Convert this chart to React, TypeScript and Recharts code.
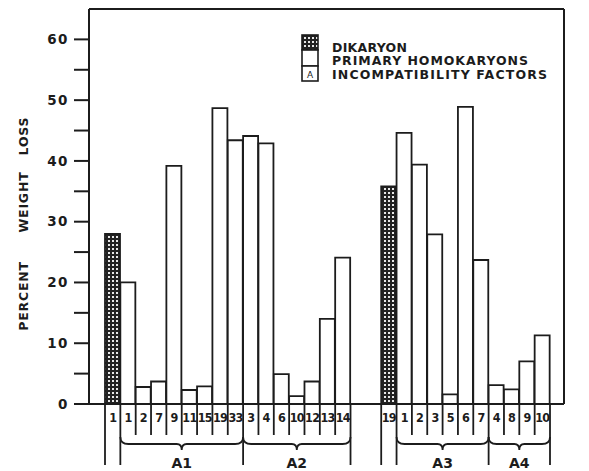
import React from 'react';
import { BarChart, Bar, XAxis, YAxis, Cell, ReferenceLine } from 'recharts';

// strain numbers along the bottom (blank = gap between the two experiments)
const strainLabels = ['1', '1', '2', '7', '9', '11', '15', '19', '33', '3', '4', '6', '10', '12', '13', '14', '', '', '19', '1', '2', '3', '5', '6', '7', '4', '8', '9', '10'];
// D = dikaryon, H = primary homokaryon
const strainKind = ['D', 'H', 'H', 'H', 'H', 'H', 'H', 'H', 'H', 'H', 'H', 'H', 'H', 'H', 'H', 'H', 'gap', 'gap', 'D', 'H', 'H', 'H', 'H', 'H', 'H', 'H', 'H', 'H', 'H'];
// incompatibility factor groups
const factorGroup = ['', 'A1', 'A1', 'A1', 'A1', 'A1', 'A1', 'A1', 'A1', 'A2', 'A2', 'A2', 'A2', 'A2', 'A2', 'A2', '', '', '', 'A3', 'A3', 'A3', 'A3', 'A3', 'A3', 'A4', 'A4', 'A4', 'A4'];
const percentLoss = [28, 20, 2.8, 3.7, 39.2, 2.3, 2.9, 48.7, 43.4, 44.1, 42.9, 4.9, 1.3, 3.7, 14, 24.1, null, null, 35.8, 44.6, 39.4, 27.9, 1.6, 48.9, 23.7, 3.1, 2.4, 7, 11.3];

const leftTicks = [0, 5, 10, 15, 20, 25, 30, 35, 40, 45, 50, 55, 60];
const rightTicks = [5, 10, 15, 20, 25, 30, 35, 40, 45, 50, 55, 60];
const legendLabels = ['DIKARYON', 'PRIMARY  HOMOKARYONS', 'INCOMPATIBILITY  FACTORS'];
const yTitleWords = ['PERCENT', 'WEIGHT', 'LOSS'];

const data = strainLabels.map((label, i) => ({
  key: 'c' + i,
  label,
  kind: strainKind[i],
  group: factorGroup[i],
  loss: percentLoss[i],
}));

const W = 589;
const H = 471;
const LEFT_W = 89;
const RIGHT_W = 25;
const PAD_L = 16;
const PAD_R = 14;
const BAND = (W - LEFT_W - RIGHT_W - PAD_L - PAD_R) / data.length;
const INK = '#1c1c1c';
const FONT = '"DejaVu Sans", Arial, sans-serif';

function StrainTick(props: any) {
  const { x, y, index } = props;
  const d = data[index];
  if (!d || d.kind === 'gap') return <g />;
  const half = BAND / 2;
  const prev = data[index - 1];
  const next = data[index + 1];
  const shortLeft = prev && prev.kind !== 'gap' && d.group !== '' && prev.group === d.group;
  const rightEnd = !next || next.kind === 'gap';
  const startsGroup = d.group !== '' && (!prev || prev.group !== d.group);
  let brace = null;
  if (startsGroup) {
    const count = data.filter((e) => e.group === d.group).length;
    const x0 = x - half;
    const x1 = x0 + count * BAND;
    const xm = (x0 + x1) / 2;
    const yb = y + 40;
    brace = (
      <g>
        <path
          d={`M${x0},${y + 33} Q${x0},${yb} ${x0 + 8},${yb} L${xm - 5},${yb} Q${xm},${yb} ${xm},${yb + 6} Q${xm},${yb} ${xm + 5},${yb} L${x1 - 8},${yb} Q${x1},${yb} ${x1},${y + 33}`}
          fill="none"
          stroke={INK}
          strokeWidth={1.8}
        />
        <text x={xm} y={y + 64} textAnchor="middle" fontSize={14} fontWeight="bold" fill={INK} fontFamily={FONT}>
          {d.group}
        </text>
      </g>
    );
  }
  return (
    <g>
      <line x1={x - half} y1={y} x2={x - half} y2={y + (shortLeft ? 31 : 61)} stroke={INK} strokeWidth={1.8} />
      {rightEnd && <line x1={x + half} y1={y} x2={x + half} y2={y + 61} stroke={INK} strokeWidth={1.8} />}
      <text
        x={x}
        y={y + 18}
        textAnchor="middle"
        fontSize={12.5}
        fontWeight="bold"
        fill={INK}
        fontFamily='"DejaVu Sans Condensed", "DejaVu Sans", sans-serif'
        letterSpacing={-0.8}
      >
        {d.label}
      </text>
      {brace}
    </g>
  );
}

function LegendKey() {
  return (
    <svg width={270} height={52} style={{ position: 'absolute', left: 300, top: 33 }}>
      <rect x={2} y={2} width={16} height={15} fill="url(#hatch)" stroke={INK} strokeWidth={1.6} />
      <rect x={2} y={17} width={16} height={16} fill="#fff" stroke={INK} strokeWidth={1.6} />
      <rect x={2} y={33} width={16} height={15} fill="#fff" stroke={INK} strokeWidth={1.6} />
      <text x={10} y={45} textAnchor="middle" fontSize={9} fill={INK} fontFamily={FONT}>A</text>
      {legendLabels.map((t, i) => (
        <text
          key={t}
          x={32}
          y={18.5 + i * 13.8}
          fontSize={12.5}
          fontWeight="bold"
          fill={INK}
          fontFamily={FONT}
          textLength={[75, 196, 215][i]}
          lengthAdjust="spacing"
        >
          {t}
        </text>
      ))}
    </svg>
  );
}

export default function App() {
  return (
    <div style={{ position: 'absolute', left: 0, top: 0, width: W, height: H, background: '#fff' }}>
      <svg width={0} height={0} style={{ position: 'absolute' }}>
        <defs>
          <pattern id="hatch" width={4} height={4} patternUnits="userSpaceOnUse">
            <rect width={4} height={4} fill="#222" />
            <rect width={2} height={2} fill="#e8e8e8" />
          </pattern>
        </defs>
      </svg>
      <BarChart width={W} height={H} data={data} margin={{ top: 9, right: 0, left: 0, bottom: 0 }} barCategoryGap={0}>
        <XAxis
          dataKey="key"
          type="category"
          interval={0}
          height={67}
          padding={{ left: PAD_L, right: PAD_R }}
          tickLine={false}
          tickSize={0}
          tickMargin={0}
          axisLine={{ stroke: INK, strokeWidth: 2 }}
          tick={StrainTick}
        />
        <YAxis
          yAxisId="left"
          width={LEFT_W}
          domain={[0, 65]}
          ticks={leftTicks}
          tickSize={15}
          tickMargin={5}
          tickLine={{ stroke: INK, strokeWidth: 2 }}
          axisLine={{ stroke: INK, strokeWidth: 2 }}
          tickFormatter={(v: number) => (v % 10 === 0 ? String(v) : '')}
          tick={{ fill: INK, fontSize: 13.5, fontWeight: 'bold', fontFamily: FONT, letterSpacing: 1.5 }}
        />
        <YAxis
          yAxisId="right"
          orientation="right"
          width={RIGHT_W}
          domain={[0, 65]}
          ticks={rightTicks}
          tickSize={16}
          tickLine={{ stroke: INK, strokeWidth: 2 }}
          axisLine={{ stroke: INK, strokeWidth: 2 }}
          tickFormatter={() => ''}
        />
        <ReferenceLine yAxisId="left" y={65} stroke={INK} strokeWidth={2} />
        <Bar yAxisId="left" dataKey="loss" stroke={INK} strokeWidth={1.8} isAnimationActive={false}>
          {data.map((d) => (
            <Cell key={d.key} fill={d.kind === 'D' ? 'url(#hatch)' : '#fff'} />
          ))}
        </Bar>
      </BarChart>
      <LegendKey />
      <svg width={40} height={H} style={{ position: 'absolute', left: 0, top: 0, pointerEvents: 'none' }}>
        {yTitleWords.map((w, i) => (
          <text
            key={w}
            x={0}
            y={0}
            transform={`translate(28,${[296, 202, 136][i]}) rotate(-90)`}
            textAnchor="middle"
            fontSize={12.5}
            fontWeight="bold"
            fill={INK}
            fontFamily={FONT}
            letterSpacing={0.8}
          >
            {w}
          </text>
        ))}
      </svg>
    </div>
  );
}
